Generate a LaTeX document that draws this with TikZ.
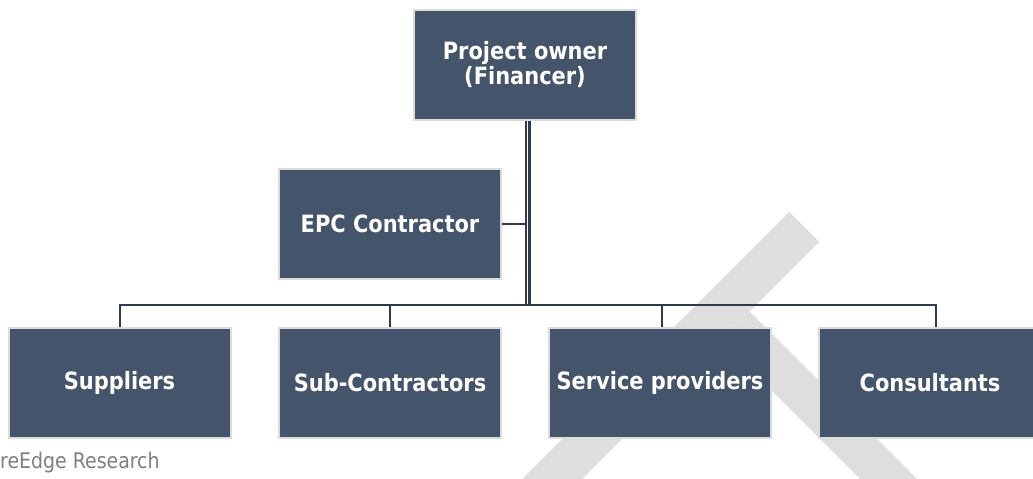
\documentclass[tikz,border=0pt]{standalone}
\usepackage{fontspec}
\setmainfont{DejaVu Sans}
\newfontfamily\boxfont{DejaVu Sans}[FakeStretch=0.88]
\definecolor{boxfill}{HTML}{44546A}
\definecolor{boxedge}{HTML}{DCDCDC}
\definecolor{linecol}{HTML}{2F3B4C}
\definecolor{wmark}{HTML}{DEDEDE}
\definecolor{srctext}{HTML}{7F7F7F}
\tikzset{
  orgbox/.style={rectangle, fill=boxfill, draw=boxedge, line width=2pt,
    minimum width=222pt, minimum height=110pt, inner sep=0pt,
    text=white, font=\boxfont\bfseries\fontsize{23.8}{25}\selectfont, align=center},
  conn/.style={draw=linecol, line width=2pt},
  trunkline/.style={draw=linecol, line width=2.5pt, double=white, double distance=1pt}
}
\begin{document}
\begin{tikzpicture}[x=1pt,y=-1pt]
\useasboundingbox[fill=white] (0,0) rectangle (1033,479);
% watermark
\fill[wmark] (522,479) -- (789,212) -- (819,242) -- (582,479) -- cycle;
\fill[wmark] (749.5,311.5) -- (917,479) -- (860,479) -- (721,340) -- cycle;
% nodes
\node[orgbox] (owner) at (525,65) {Project owner\\(Financer)};
\node[orgbox] (epc) at (390,223.5) {EPC Contractor};
\node[orgbox] (supp) at (119.5,382.5) {Suppliers};
\node[orgbox] (sub) at (390,382.5) {Sub-Contractors};
\node[orgbox] (serv) at (660,382.5) {Service providers};
\node[orgbox] (cons) at (930,382.5) {Consultants};
\node[anchor=base west, inner sep=0pt, text=srctext, font=\boxfont\fontsize{21.5}{24}\selectfont] (src) at (0,468) {reEdge Research};
% connectors
\coordinate (bus) at (527.7,305);
\coordinate (consx) at ([xshift=6pt]cons.north);
\coordinate (servx) at ([xshift=2pt]serv.north);
\draw[trunkline] ([xshift=2.7pt]owner.south) -- ([xshift=2.7pt]owner.south |- bus);
\draw[conn] (epc.east) -- ([xshift=-3pt]epc.east -| bus);
\draw[conn] (supp.north) -- (supp.north |- bus) -- (consx |- bus) -- (consx);
\draw[conn] (sub.north) -- (sub.north |- bus);
\draw[conn] (servx) -- (servx |- bus);
\end{tikzpicture}
\end{document}
